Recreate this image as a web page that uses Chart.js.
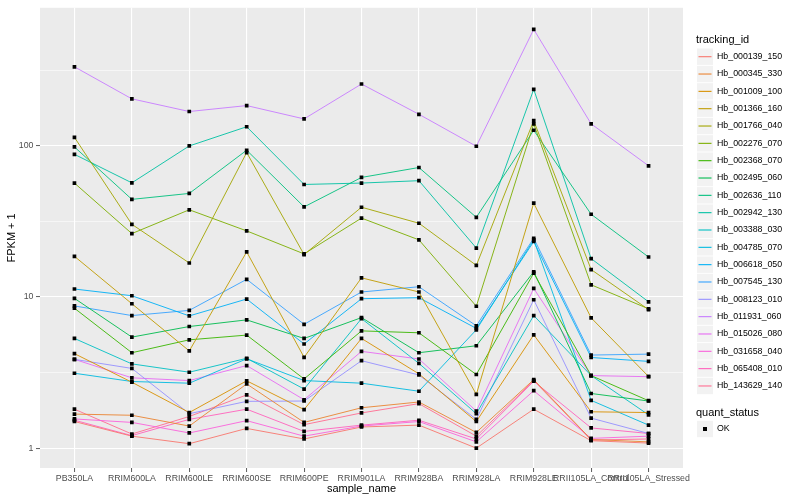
<!DOCTYPE html>
<html>
<head>
<meta charset="utf-8">
<script src="https://cdn.jsdelivr.net/npm/chart.js@4.4.0/dist/chart.umd.min.js"></script>
<style>
body { margin: 0; background: #fff; }
</style>
</head>
<body>
<canvas id="chart" width="800" height="500"></canvas>
<script>
var categories = ['PB350LA', 'RRIM600LA', 'RRIM600LE', 'RRIM600SE', 'RRIM600PE', 'RRIM901LA',
    'RRIM928BA', 'RRIM928LA', 'RRIM928LE', 'RRII105LA_Control', 'RRII105LA_Stressed'];
var yBreaks = [1, 10, 100];
var yMinorBreaks = [3.1623, 31.623, 316.23];

var hb_000139_150 = [1.5, 1.2, 1.07, 1.35, 1.15, 1.38, 1.42, 1.0, 1.81, 1.12, 1.08];
var hb_000345_330 = [1.68, 1.65, 1.40, 2.66, 1.48, 1.85, 2.02, 1.27, 2.84, 1.14, 1.1];
var hb_001009_100 = [4.22, 2.73, 1.72, 2.79, 1.8, 5.32, 3.1, 1.5, 5.62, 1.74, 1.72];
var hb_001366_160 = [18.6, 9.03, 4.4, 19.9, 3.99, 13.4, 10.8, 2.27, 41.8, 7.28, 2.98];
var hb_001766_040 = [114, 30.3, 16.8, 90.4, 19.1, 39.3, 30.8, 16.2, 147, 15.2, 8.26];
var hb_002276_070 = [56.8, 26.3, 37.8, 27.4, 19.3, 33.3, 23.9, 8.69, 140, 12.05, 8.36];
var hb_002368_070 = [8.43, 4.28, 5.21, 5.6, 2.87, 5.97, 5.8, 3.07, 14.4, 3.02, 2.06];
var hb_002495_060 = [9.8, 5.43, 6.38, 7.06, 5.32, 7.31, 4.28, 4.76, 14.7, 2.30, 2.05];
var hb_002636_110 = [98.5, 44.3, 48.5, 93.7, 39.5, 61.9, 72, 33.7, 127, 35.3, 18.4];
var hb_002942_130 = [88, 57, 100, 134, 55.6, 56.8, 58.9, 21.1, 237, 17.96, 9.3];
var hb_003388_030 = [5.32, 3.61, 3.18, 3.93, 2.46, 7.2, 3.64, 1.69, 7.54, 3.02, 1.66];
var hb_004785_070 = [3.13, 2.76, 2.69, 3.9, 2.8, 2.69, 2.38, 6.07, 23.9, 2.07, 1.42];
var hb_006618_050 = [11.3, 10.2, 7.5, 9.7, 4.89, 9.75, 9.9, 6.2, 23.3, 3.98, 3.75];
var hb_007545_130 = [8.73, 7.54, 8.16, 13.1, 6.6, 10.8, 11.7, 6.45, 24.5, 4.13, 4.19];
var hb_008123_010 = [3.87, 3.37, 1.69, 2.04, 2.05, 3.79, 3.05, 1.55, 9.6, 1.58, 1.25];
var hb_011931_060 = [334, 205, 169, 185, 151, 257, 162, 99.5, 591, 140, 73.9];
var hb_015026_080 = [3.87, 2.92, 2.8, 3.52, 2.09, 4.37, 3.89, 1.76, 11.4, 3.02, 2.97];
var hb_031658_040 = [1.56, 1.48, 1.26, 1.52, 1.2, 1.40, 1.5, 1.1, 2.4, 1.16, 1.2];
var hb_065408_010 = [1.53, 1.21, 1.55, 1.81, 1.29, 1.42, 1.53, 1.15, 2.77, 1.36, 1.25];
var hb_143629_140 = [1.81, 1.24, 1.62, 2.25, 1.43, 1.71, 1.97, 1.2, 2.8, 1.13, 1.15];

var trackingIds = ['Hb_000139_150', 'Hb_000345_330', 'Hb_001009_100', 'Hb_001366_160', 'Hb_001766_040',
    'Hb_002276_070', 'Hb_002368_070', 'Hb_002495_060', 'Hb_002636_110', 'Hb_002942_130',
    'Hb_003388_030', 'Hb_004785_070', 'Hb_006618_050', 'Hb_007545_130', 'Hb_008123_010',
    'Hb_011931_060', 'Hb_015026_080', 'Hb_031658_040', 'Hb_065408_010', 'Hb_143629_140'];
var seriesValues = [hb_000139_150, hb_000345_330, hb_001009_100, hb_001366_160, hb_001766_040,
    hb_002276_070, hb_002368_070, hb_002495_060, hb_002636_110, hb_002942_130,
    hb_003388_030, hb_004785_070, hb_006618_050, hb_007545_130, hb_008123_010,
    hb_011931_060, hb_015026_080, hb_031658_040, hb_065408_010, hb_143629_140];
var seriesColors = ['#F8766D', '#EA8331', '#D89000', '#C09B00', '#A3A500', '#7CAE00', '#39B600', '#00BB4E',
    '#00BF7D', '#00C1A3', '#00BFC4', '#00BAE0', '#00B0F6', '#35A2FF', '#9590FF', '#C77CFF',
    '#E76BF3', '#FA62DB', '#FF62BC', '#FF6C91'];
var statusLabels = ['OK'];

var fontFamily = "'Liberation Sans', Arial, sans-serif";
Chart.defaults.font.family = fontFamily;

function toPoints(values) {
    return values.map(function (v, i) { return { x: i, y: v }; });
}

function isMajor(v) {
    return yBreaks.some(function (b) { return Math.abs(b - v) < 1e-6; });
}

var datasets = seriesValues.map(function (values, i) {
    return {
        label: trackingIds[i],
        data: toPoints(values),
        borderColor: seriesColors[i],
        borderWidth: 0.9,
        pointRadius: 0,
        fill: false,
        tension: 0,
        order: 1
    };
});

// all points in one dataset so they sit above every line, as in ggplot
datasets.push({
    label: statusLabels[0],
    data: [].concat.apply([], seriesValues.map(toPoints)),
    showLine: false,
    pointStyle: 'rect',
    pointRadius: 2.6,
    pointBackgroundColor: '#000',
    pointBorderWidth: 0,
    order: 0
});

var ggPlugin = {
    id: 'ggPanel',
    beforeDraw: function (chart) {
        var ctx = chart.ctx;
        var a = chart.chartArea;
        ctx.save();
        ctx.fillStyle = '#EBEBEB';
        ctx.fillRect(a.left, a.top, a.right - a.left, a.bottom - a.top);
        ctx.restore();
    },
    afterDraw: function (chart) {
        var ctx = chart.ctx;
        var x0 = 697;
        var step = 17.33;
        ctx.save();
        ctx.textBaseline = 'middle';
        ctx.textAlign = 'left';
        ctx.fillStyle = '#000';
        ctx.font = '11px ' + fontFamily;
        ctx.fillText('tracking_id', 696, 40);
        ctx.font = '8.8px ' + fontFamily;
        trackingIds.forEach(function (id, i) {
            var cy = 56.7 + i * step;
            ctx.fillStyle = '#F2F2F2';
            ctx.fillRect(x0, cy - 8.2, 16, 16.4);
            ctx.strokeStyle = seriesColors[i];
            ctx.lineWidth = 1.1;
            ctx.beginPath();
            ctx.moveTo(x0 + 1.5, cy);
            ctx.lineTo(x0 + 14.5, cy);
            ctx.stroke();
            ctx.fillStyle = '#000';
            ctx.fillText(id, 717, cy);
        });
        ctx.font = '11px ' + fontFamily;
        ctx.fillText('quant_status', 696, 413);
        ctx.fillStyle = '#F2F2F2';
        ctx.fillRect(x0, 429 - 8.2, 16, 16.4);
        ctx.fillStyle = '#000';
        ctx.fillRect(x0 + 6, 427, 4, 4);
        ctx.font = '8.8px ' + fontFamily;
        ctx.fillText(statusLabels[0], 717, 429);
        ctx.restore();
    }
};

var canvas = document.getElementById('chart');
var myChart = new Chart(canvas, {
    type: 'line',
    data: { datasets: datasets },
    plugins: [ggPlugin],
    options: {
        responsive: false,
        animation: false,
        layout: { padding: { left: 0, right: 117, top: 5, bottom: 0 } },
        scales: {
            x: {
                type: 'linear',
                bounds: 'data',
                min: -0.6,
                max: 10.6,
                afterBuildTicks: function (scale) {
                    scale.ticks = categories.map(function (c, i) { return { value: i }; });
                },
                afterFit: function (scale) { scale.height = 32; },
                ticks: {
                    autoSkip: false,
                    maxRotation: 0,
                    minRotation: 0,
                    padding: 1,
                    color: '#4D4D4D',
                    font: { size: 8.8 },
                    callback: function (v) { return categories[v]; }
                },
                grid: {
                    color: '#FFFFFF',
                    lineWidth: 1.1,
                    tickColor: '#333333',
                    tickLength: 4,
                    tickWidth: 0.8
                },
                border: { display: false },
                title: {
                    display: true,
                    text: 'sample_name',
                    color: '#000',
                    font: { size: 11 },
                    padding: { top: 0, bottom: 4 }
                }
            },
            y: {
                type: 'logarithmic',
                bounds: 'data',
                min: 0.7387,
                max: 821.3,
                afterBuildTicks: function (scale) {
                    scale.ticks = yBreaks.concat(yMinorBreaks).sort(function (a, b) { return a - b; })
                        .map(function (v) { return { value: v }; });
                },
                afterFit: function (scale) { scale.width = 40; },
                ticks: {
                    autoSkip: false,
                    padding: 2.5,
                    color: '#4D4D4D',
                    font: { size: 8.8 },
                    callback: function (v) { return isMajor(v) ? String(Math.round(v)) : ''; }
                },
                grid: {
                    color: '#FFFFFF',
                    lineWidth: function (c) { return c.tick && isMajor(c.tick.value) ? 1.1 : 0.55; },
                    tickColor: function (c) { return c.tick && isMajor(c.tick.value) ? '#333333' : 'rgba(0,0,0,0)'; },
                    tickLength: 4,
                    tickWidth: 0.8
                },
                border: { display: false },
                title: {
                    display: true,
                    text: 'FPKM + 1',
                    color: '#000',
                    font: { size: 11 },
                    padding: { top: 5, bottom: 0 }
                }
            }
        },
        plugins: {
            legend: { display: false },
            tooltip: { enabled: false }
        }
    }
});
</script>
</body>
</html>
